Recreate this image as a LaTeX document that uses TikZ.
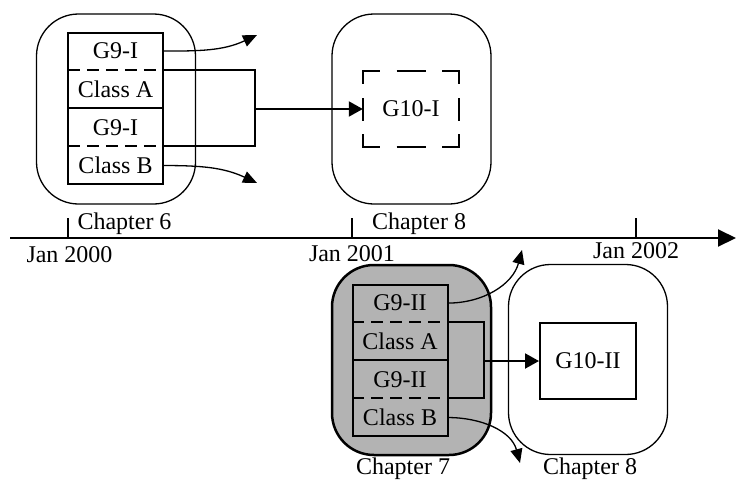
\documentclass[tikz,border=0pt]{standalone}
\usepackage{fontspec}
\setmainfont{Liberation Serif}
\usetikzlibrary{arrows.meta}
\definecolor{boxgray}{HTML}{B3B3B3}
\begin{document}
\begin{tikzpicture}[x=1pt,y=1pt,
  txt/.style={font=\fontsize{24}{28}\selectfont},
  chap/.style={draw, line width=1.3pt, rounded corners=42pt, minimum width=159pt, minimum height=190pt, inner sep=0pt},
  row/.style={txt, minimum width=95pt, minimum height=37.75pt, inner sep=0pt, anchor=north},
  stackbox/.style={draw, line width=2pt, minimum width=95pt, minimum height=151pt, inner sep=0pt},
  divd/.style={line width=2pt, dash pattern=on 12pt off 7pt},
  conn/.style={line width=2pt},
  bigarr/.style={line width=2pt, -{Triangle[length=14pt,width=15pt]}},
  curarr/.style={line width=1.3pt, -{Triangle[length=14pt,width=12pt]}},
  lbl/.style={txt, inner sep=0pt, anchor=base},
  seg/.style={line width=2pt},
]
\useasboundingbox (0,-480) rectangle (736,0);

% ---------- top left: Chapter 6 ----------
\node[chap] (c6) at (116,-109) {};
\node[stackbox] (s1) at (115.5,-108.5) {};
\node[row] (a1) at (s1.north) {G9-I};
\node[row] (a2) at (a1.south) {Class A};
\node[row] (a3) at (a2.south) {G9-I};
\node[row] (a4) at (a3.south) {Class B};
\draw[divd] (a1.south west) -- (a1.south east);
\draw[conn] (a2.south west) -- (a2.south east);
\draw[divd] (a3.south west) -- (a3.south east);

% ---------- top middle: Chapter 8 ----------
\node[chap] (c8a) at (411.5,-109) {};
\node[txt, minimum width=96pt, minimum height=76pt, inner sep=0pt] (g10i) at (411,-109) {G10-I};
\draw[seg] ([yshift=-13pt]g10i.north west) -- (g10i.north west) -- ([xshift=17pt]g10i.north west);
\draw[seg] ([xshift=-17pt]g10i.north east) -- (g10i.north east) -- ([yshift=-13pt]g10i.north east);
\draw[seg] ([yshift=13pt]g10i.south west) -- (g10i.south west) -- ([xshift=17pt]g10i.south west);
\draw[seg] ([xshift=-17pt]g10i.south east) -- (g10i.south east) -- ([yshift=13pt]g10i.south east);
\draw[seg] ([xshift=-14.5pt]g10i.north) -- ([xshift=14.5pt]g10i.north);
\draw[seg] ([xshift=-14.5pt]g10i.south) -- ([xshift=14.5pt]g10i.south);
\draw[seg] ([yshift=-11.5pt]g10i.west) -- ([yshift=11.5pt]g10i.west);
\draw[seg] ([yshift=-11.5pt]g10i.east) -- ([yshift=11.5pt]g10i.east);

% connectors top
\coordinate (j1) at (255,-109);
\draw[conn] (a1.south east) -| (j1) |- (a3.south east);
\draw[bigarr] (j1) -- (g10i.west);
\coordinate (e1) at (257,-35);
\coordinate (e2) at (257,-183);
\draw[curarr] (a1.east) to[out=0,in=205] (e1);
\draw[curarr] (a4.east) to[out=0,in=155] (e2);

% ---------- timeline ----------
\coordinate (t0) at (10,-238);
\coordinate (t1) at (736,-238);
\draw[line width=2pt, -{Triangle[length=18pt,width=17pt]}] (t0) -- (t1);
\coordinate (k0) at (68,-238);
\coordinate (k1) at (352,-238);
\coordinate (k2) at (636,-238);
\draw[line width=2pt] (k0) -- ++(0,20);
\draw[line width=2pt] (k1) -- ++(0,20);
\draw[line width=2pt] (k2) -- ++(0,20);
\node[lbl] (l6) at (124.5,-229) {Chapter 6};
\node[lbl] (l8a) at (419,-229) {Chapter 8};
\node[lbl] (y0) at (69.5,-262) {Jan 2000};
\node[lbl] (y1) at (352,-261) {Jan 2001};
\node[lbl] (y2) at (636,-258) {Jan 2002};

% ---------- bottom: Chapter 7 ----------
\node[chap, fill=boxgray, line width=2.5pt] (c7) at (411.5,-360) {};
\node[stackbox] (s2) at (400,-360.5) {};
\node[row] (b1) at (s2.north) {G9-II};
\node[row] (b2) at (b1.south) {Class A};
\node[row] (b3) at (b2.south) {G9-II};
\node[row] (b4) at (b3.south) {Class B};
\draw[divd] (b1.south west) -- (b1.south east);
\draw[conn] (b2.south west) -- (b2.south east);
\draw[divd] (b3.south west) -- (b3.south east);

% ---------- bottom right: Chapter 8 ----------
\node[chap] (c8b) at (588,-359.5) {};
\node[draw, line width=2pt, txt, minimum width=96pt, minimum height=76pt, inner sep=0pt] (g10ii) at (588,-361) {G10-II};

% connectors bottom
\coordinate (j2) at (484,-361);
\draw[conn] (b1.south east) -| (j2) |- (b3.south east);
\draw[bigarr] (j2) -- (g10ii.west);
\coordinate (e3) at (522,-250);
\coordinate (e4) at (520,-463);
\draw[curarr] (b1.east) to[out=0,in=-105] (e3);
\draw[curarr] (b4.east) to[out=0,in=105] (e4);

\node[lbl] (l7) at (403,-474) {Chapter 7};
\node[lbl] (l8b) at (590,-474) {Chapter 8};
\end{tikzpicture}
\end{document}
